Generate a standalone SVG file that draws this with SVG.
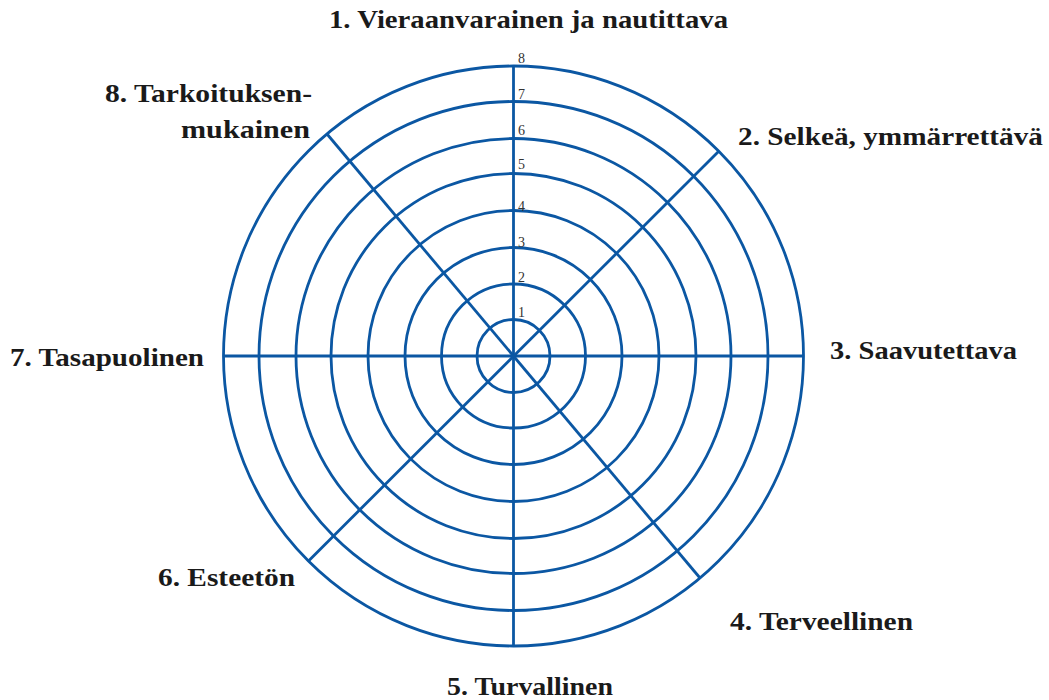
<svg xmlns="http://www.w3.org/2000/svg" width="1049" height="700" viewBox="0 0 1049 700">
<style>
.ring{fill:none;stroke:#0b57a3;stroke-width:2.8}
.spoke{stroke:#0b57a3;stroke-width:2.8;stroke-linecap:butt}
.lbl{font-family:"Liberation Serif",serif;font-weight:bold;font-size:25px;fill:#1a1a1a}
.num{font-family:"Liberation Serif",serif;font-size:14px;fill:#333}
</style>
<rect width="1049" height="700" fill="#fff"/>
<g id="rings">
<circle class="ring" cx="513.5" cy="356" r="36.5"/>
<circle class="ring" cx="513.5" cy="356" r="72"/>
<circle class="ring" cx="513.5" cy="356" r="108.5"/>
<circle class="ring" cx="513.5" cy="356" r="145.5"/>
<circle class="ring" cx="513.5" cy="356" r="182.5"/>
<circle class="ring" cx="513.5" cy="356" r="217.5"/>
<circle class="ring" cx="513.5" cy="356" r="254.5"/>
<circle class="ring" cx="513.5" cy="356" r="290"/>
</g>
<g id="connectors">
<line class="spoke" x1="513.5" y1="66" x2="513.5" y2="646"/>
<line class="spoke" x1="224" y1="356" x2="804" y2="356"/>
<line class="spoke" x1="327" y1="134" x2="700" y2="578"/>
<line class="spoke" x1="718.5" y1="151.5" x2="308.5" y2="561"/>
</g>
<g id="scale">
<text class="num" x="518" y="63">8</text>
<text class="num" x="518" y="99">7</text>
<text class="num" x="518" y="135">6</text>
<text class="num" x="518" y="169">5</text>
<text class="num" x="518" y="211">4</text>
<text class="num" x="518" y="247">3</text>
<text class="num" x="518" y="282">2</text>
<text class="num" x="518" y="317">1</text>
</g>
<g id="n1"><text class="lbl" x="329" y="28" textLength="399" lengthAdjust="spacingAndGlyphs">1. Vieraanvarainen ja nautittava</text></g>
<g id="n2"><text class="lbl" x="738" y="145" textLength="305" lengthAdjust="spacingAndGlyphs">2. Selkeä, ymmärrettävä</text></g>
<g id="n3"><text class="lbl" x="830" y="359" textLength="187" lengthAdjust="spacingAndGlyphs">3. Saavutettava</text></g>
<g id="n4"><text class="lbl" x="730" y="630" textLength="183" lengthAdjust="spacingAndGlyphs">4. Terveellinen</text></g>
<g id="n5"><text class="lbl" x="447" y="695" textLength="166" lengthAdjust="spacingAndGlyphs">5. Turvallinen</text></g>
<g id="n6"><text class="lbl" x="158" y="586" textLength="137" lengthAdjust="spacingAndGlyphs">6. Esteetön</text></g>
<g id="n7"><text class="lbl" x="10" y="366" textLength="194" lengthAdjust="spacingAndGlyphs">7. Tasapuolinen</text></g>
<g id="n8">
<text class="lbl" x="105" y="102" textLength="207" lengthAdjust="spacingAndGlyphs">8. Tarkoituksen-</text>
<text class="lbl" x="181" y="138" textLength="129" lengthAdjust="spacingAndGlyphs">mukainen</text>
</g>
</svg>
